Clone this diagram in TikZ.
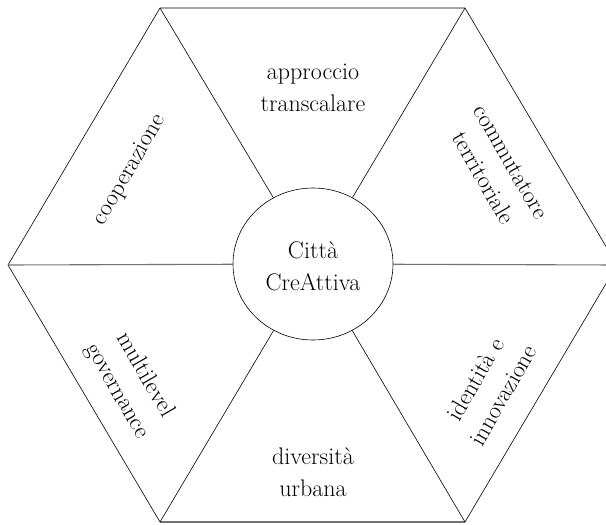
\documentclass[tikz,border=0pt]{standalone}
\usetikzlibrary{shapes.geometric}
\begin{document}
\begin{tikzpicture}[x=1pt,y=-1pt,
  edge/.style={draw=black,line width=0.6pt},
  hline/.style={draw=black!55,line width=1.1pt},
  lbl/.style={align=center,font=\fontsize{24}{32}\selectfont,inner sep=0pt}]
\useasboundingbox (0,0) rectangle (606,525);
\clip (0,0) rectangle (606,525);
\coordinate (tl) at (160,8);
\coordinate (tr) at (465,8);
\coordinate (l) at (8,265);
\coordinate (r) at (617,265);
\coordinate (bl) at (160,522);
\coordinate (br) at (465,522);
\node[ellipse,draw,line width=0.6pt,minimum width=160pt,minimum height=152pt,inner sep=0pt] (c) at (313,264) {};
\draw[edge] (tl) -- (tr) -- (r);
\draw[edge] (r) -- (br);
\draw[hline] (br) -- (bl);
\draw[edge] (bl) -- (l) -- (tl);
\draw[edge] (c) -- (tl);
\draw[edge] (c) -- (tr);
\draw[edge] (c) -- (bl);
\draw[edge] (c) -- (br);
\draw[hline] (c) -- (l);
\draw[hline] (c) -- (r);
\node[lbl] (t0) at (313,266) {Città\\CreAttiva};
\node[lbl] (t1) at (313,88) {approccio\\transcalare};
\node[lbl,rotate=60] (t2) at (130,170) {cooperazione};
\node[lbl,rotate=-60] (t3) at (497,170) {commutatore\\territoriale};
\node[lbl,rotate=-60] (t4) at (131,383) {multilevel\\governance};
\node[lbl,rotate=60] (t5) at (489,387) {identità e\\innovazione};
\node[lbl] (t6) at (313,472) {diversità\\urbana};
\end{tikzpicture}
\end{document}
